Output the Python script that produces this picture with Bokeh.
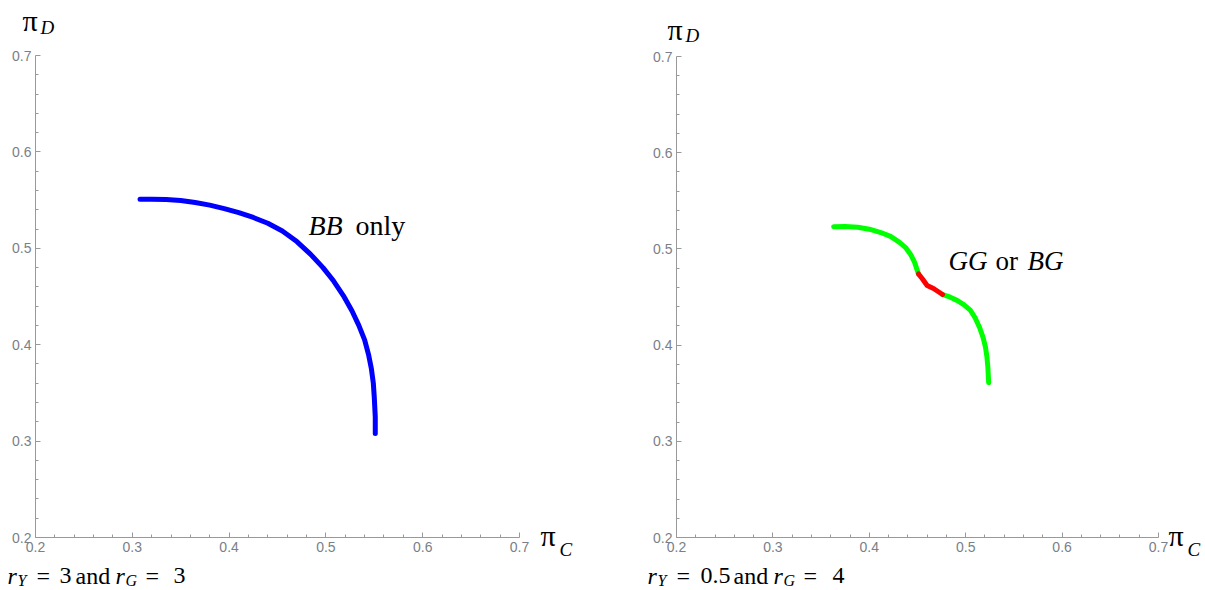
from bokeh.plotting import figure
from bokeh.layouts import row
from bokeh.models import Range1d, FixedTicker, Label, LinearAxis
from bokeh.embed import file_html
from bokeh.resources import INLINE

# ---- data ----
ticks = [0.2, 0.3, 0.4, 0.5, 0.6, 0.7]
minor_ticks = [0.22, 0.24, 0.26, 0.28, 0.32, 0.34, 0.36, 0.38, 0.42, 0.44, 0.46, 0.48,
               0.52, 0.54, 0.56, 0.58, 0.62, 0.64, 0.66, 0.68]

bb_pc = [0.308, 0.320, 0.335, 0.350, 0.365, 0.380, 0.395, 0.410, 0.425, 0.440, 0.455,
         0.470, 0.484, 0.497, 0.508, 0.518, 0.527, 0.534, 0.540, 0.544, 0.547, 0.549,
         0.550, 0.551, 0.551]
bb_pd = [0.551, 0.551, 0.5505, 0.5495, 0.5475, 0.5448, 0.5412, 0.537, 0.532, 0.526, 0.518,
         0.507, 0.494, 0.480, 0.466, 0.451, 0.435, 0.420, 0.405, 0.390, 0.375, 0.360,
         0.345, 0.325, 0.308]

gg1_pc = [0.363, 0.375, 0.388, 0.400, 0.412, 0.422, 0.431, 0.438, 0.443, 0.447, 0.449, 0.451]
gg1_pd = [0.523, 0.5232, 0.5225, 0.5205, 0.517, 0.513, 0.507, 0.501, 0.494, 0.486, 0.480, 0.474]
red_pc = [0.451, 0.455, 0.460, 0.4666, 0.476]
red_pd = [0.474, 0.469, 0.462, 0.4588, 0.4526]
gg2_pc = [0.476, 0.484, 0.491, 0.498, 0.505, 0.510, 0.5145, 0.518, 0.5205, 0.522, 0.523, 0.5238]
gg2_pd = [0.4526, 0.4498, 0.4465, 0.442, 0.436, 0.428, 0.418, 0.408, 0.398, 0.388, 0.377, 0.361]

H = 590
SERIF = "Liberation Serif"
DY = -8  # baseline correction for label placement


def make_fig(page_x0, total_w, ax_l, ax_r, ax_t, ax_b):
    # ax_* are page pixel positions of the values 0.2 / 0.7 on each axis
    sx = (ax_r - ax_l) / 0.5
    sy = (ax_b - ax_t) / 0.5
    lx = ax_l - page_x0
    xr = Range1d(0.2 - lx / sx, 0.2 + (total_w - lx) / sx)
    yr = Range1d(0.2 - (H - ax_b) / sy, 0.7 + ax_t / sy)
    p = figure(width=total_w, height=H, x_range=xr, y_range=yr,
               x_axis_type=None, y_axis_type=None,
               output_backend="svg", toolbar_location=None,
               min_border=0, min_border_left=0, min_border_right=0,
               min_border_top=0, min_border_bottom=0)
    p.outline_line_color = None
    p.grid.visible = False
    p.background_fill_color = "white"
    p.border_fill_color = "white"
    xa = LinearAxis(fixed_location=0.2)
    ya = LinearAxis(fixed_location=0.2)
    for ax in (xa, ya):
        ax.ticker = FixedTicker(ticks=ticks, minor_ticks=minor_ticks)
        ax.bounds = (0.2, 0.7)
        ax.axis_line_color = "#999999"
        ax.major_tick_line_color = "#999999"
        ax.minor_tick_line_color = "#999999"
        ax.major_tick_in = 5
        ax.major_tick_out = 0
        ax.minor_tick_in = 3
        ax.minor_tick_out = 0
        ax.major_label_text_color = "#7a7f88"
        ax.major_label_text_font = "Liberation Sans"
        ax.major_label_text_font_size = "14px"
        ax.major_label_standoff = 4
    p.add_layout(xa, "below")
    p.add_layout(ya, "left")
    p._geom = (page_x0, ax_l, ax_r, ax_t, ax_b)
    return p


def add_text(p, px, py, text, size, style="normal"):
    x0, l, r, t, b = p._geom
    py = py + DY
    x = 0.2 + (px - l) / (r - l) * 0.5
    y = 0.7 - (py - t) / (b - t) * 0.5
    p.add_layout(Label(x=x, y=y, text=text, text_font=SERIF,
                       text_font_size=f"{size}px", text_font_style=style,
                       text_color="black", text_align="left",
                       text_baseline="alphabetic"))


# ---- left panel ----
p1 = make_fig(0, 600, 35, 519, 55, 537)
p1.line(bb_pc, bb_pd, line_color="#0000FF", line_width=5, line_cap="round", line_join="round")
add_text(p1, 22, 28, "π", 30)
add_text(p1, 40, 35, "D", 19, "italic")
add_text(p1, 540, 543, "π", 30)
add_text(p1, 559, 557, "C", 19, "italic")
add_text(p1, 308, 233, "BB", 28, "italic")
add_text(p1, 355, 233, "only", 28)
add_text(p1, 7, 583, "r", 24, "italic")
add_text(p1, 17, 588, "Y", 16, "italic")
add_text(p1, 36, 583, "=", 24)
add_text(p1, 59, 583, "3", 24)
add_text(p1, 75, 583, "and", 24)
add_text(p1, 115, 583, "r", 24, "italic")
add_text(p1, 125, 588, "G", 16, "italic")
add_text(p1, 145, 583, "=", 24)
add_text(p1, 173, 583, "3", 24)

# ---- right panel ----
p2 = make_fig(600, 605, 676, 1158, 56, 537)
p2.line(gg1_pc, gg1_pd, line_color="#00FF00", line_width=5, line_cap="round", line_join="round")
p2.line(gg2_pc, gg2_pd, line_color="#00FF00", line_width=5, line_cap="round", line_join="round")
p2.line(red_pc, red_pd, line_color="#FF0000", line_width=5, line_cap="round", line_join="round")
add_text(p2, 667, 37, "π", 30)
add_text(p2, 685, 43, "D", 19, "italic")
add_text(p2, 1168, 543, "π", 30)
add_text(p2, 1187, 557, "C", 19, "italic")
add_text(p2, 948, 268, "GG", 27, "italic")
add_text(p2, 995, 268, "or", 27)
add_text(p2, 1027, 268, "BG", 27, "italic")
add_text(p2, 647, 583, "r", 24, "italic")
add_text(p2, 657, 588, "Y", 16, "italic")
add_text(p2, 676, 583, "=", 24)
add_text(p2, 700, 583, "0.5", 24)
add_text(p2, 733, 583, "and", 24)
add_text(p2, 773, 583, "r", 24, "italic")
add_text(p2, 783, 588, "G", 16, "italic")
add_text(p2, 803, 583, "=", 24)
add_text(p2, 832, 583, "4", 24)

layout = row(p1, p2)
open("out.html", "w").write(file_html(layout, INLINE))
